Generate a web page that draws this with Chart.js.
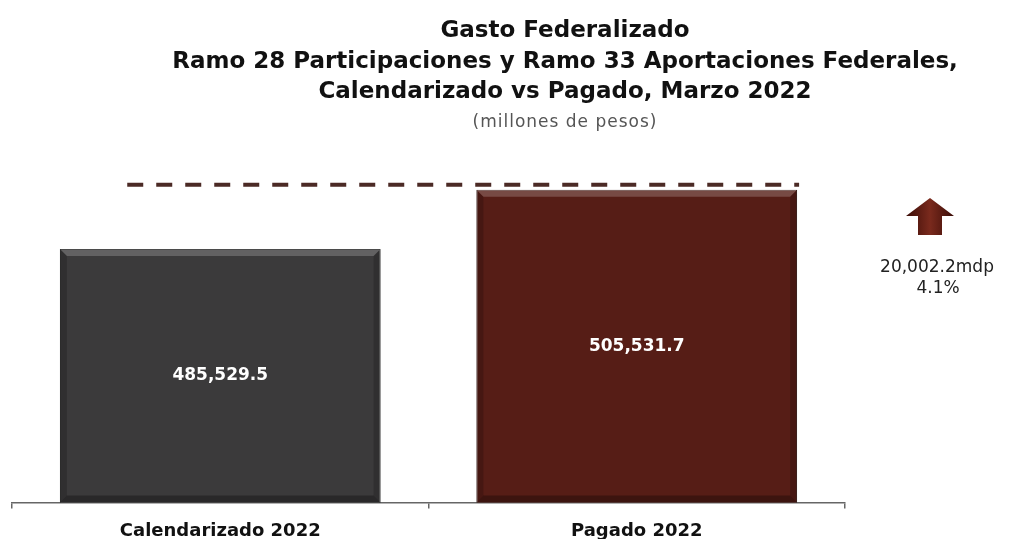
<!DOCTYPE html>
<html>
<head>
<meta charset="utf-8">
<title>Gasto Federalizado</title>
<style>
  html, body { margin: 0; padding: 0; background: #fff; }
  #wrap { position: relative; width: 1011px; height: 539px; }
</style>
</head>
<body>
<div id="wrap"><canvas id="myChart"></canvas></div>
<script src="https://cdn.jsdelivr.net/npm/chart.js@4/dist/chart.umd.min.js"></script>
<script>
// data
const categories = ['Calendarizado 2022', 'Pagado 2022'];
const values = [485529.5, 505531.7];
const titleLines = [
  'Gasto Federalizado',
  'Ramo 28 Participaciones y Ramo 33 Aportaciones Federales,',
  'Calendarizado vs Pagado, Marzo 2022'
];
const subtitleText = '(millones de pesos)';
const axisMin = 400000;
const axisMax = 520000;

const barFill = ['#3b3a3b', '#561d16'];
const barEdge = ['#1e1e1e', '#33100b'];

function fmt(v) {
  return v.toLocaleString('en-US', { minimumFractionDigits: 1, maximumFractionDigits: 1 });
}
const diff = values[1] - values[0];
const diffText = fmt(diff) + 'mdp';
const pctText = (diff / values[0] * 100).toFixed(1) + '%';

const decor = {
  id: 'decor',
  afterDatasetsDraw(chart) {
    const ctx = chart.ctx;
    const area = chart.chartArea;
    const bars = chart.getDatasetMeta(0).data;
    bars.forEach((b, i) => {
      const l = b.x - b.width / 2, r = b.x + b.width / 2, t = b.y;
      const btm = Math.min(b.base, area.bottom);
      const d = 7;
      ctx.save();
      // bevel: light top, darker sides and bottom
      ctx.fillStyle = 'rgba(255,255,255,0.2)';
      ctx.beginPath();
      ctx.moveTo(l, t); ctx.lineTo(r, t); ctx.lineTo(r - d, t + d); ctx.lineTo(l + d, t + d);
      ctx.closePath(); ctx.fill();
      ctx.fillStyle = 'rgba(0,0,0,0.18)';
      ctx.beginPath();
      ctx.moveTo(l, t); ctx.lineTo(l + d, t + d); ctx.lineTo(l + d, btm - d); ctx.lineTo(l, btm);
      ctx.closePath(); ctx.fill();
      ctx.beginPath();
      ctx.moveTo(r, t); ctx.lineTo(r - d, t + d); ctx.lineTo(r - d, btm - d); ctx.lineTo(r, btm);
      ctx.closePath(); ctx.fill();
      ctx.fillStyle = 'rgba(0,0,0,0.3)';
      ctx.beginPath();
      ctx.moveTo(l, btm); ctx.lineTo(l + d, btm - d); ctx.lineTo(r - d, btm - d); ctx.lineTo(r, btm);
      ctx.closePath(); ctx.fill();

      // value label
      ctx.fillStyle = '#ffffff';
      ctx.font = 'bold 17px "DejaVu Sans"';
      ctx.textAlign = 'center';
      ctx.textBaseline = 'middle';
      ctx.fillText(fmt(values[i]), b.x, (t + btm) / 2);
      ctx.restore();
    });
  },
  afterDraw(chart) {
    const ctx = chart.ctx;
    const area = chart.chartArea;
    const bars = chart.getDatasetMeta(0).data;
    const yScale = chart.scales.y;
    ctx.save();

    // titles
    const cx = 565;
    ctx.textAlign = 'center';
    ctx.textBaseline = 'alphabetic';
    ctx.fillStyle = '#111';
    ctx.font = 'bold 23px "DejaVu Sans"';
    titleLines.forEach((line, i) => ctx.fillText(line, cx, 37 + i * 30.5));
    ctx.fillStyle = '#555';
    ctx.font = '17px "DejaVu Sans"';
    ctx.letterSpacing = '1px';
    ctx.fillText(subtitleText, cx, 127);
    ctx.letterSpacing = '0px';

    // dashed reference line at the paid level
    const b0 = bars[0], b1 = bars[1];
    const ly = yScale.getPixelForValue(values[1]) - 5;
    ctx.strokeStyle = '#4b2a25';
    ctx.lineWidth = 4;
    ctx.setLineDash([16, 13]);
    ctx.beginPath();
    ctx.moveTo(b0.x - b0.width * 0.29, ly);
    ctx.lineTo(b1.x + b1.width / 2 + 2, ly);
    ctx.stroke();
    ctx.setLineDash([]);

    // arrow
    const ax = area.right + 85;
    const g = ctx.createLinearGradient(ax - 24, 0, ax + 24, 0);
    g.addColorStop(0, '#3a0c07');
    g.addColorStop(0.5, '#7a2a1d');
    g.addColorStop(1, '#3a0c07');
    ctx.fillStyle = g;
    ctx.beginPath();
    ctx.moveTo(ax, 198);
    ctx.lineTo(ax + 24, 216);
    ctx.lineTo(ax + 12, 216);
    ctx.lineTo(ax + 12, 235);
    ctx.lineTo(ax - 12, 235);
    ctx.lineTo(ax - 12, 216);
    ctx.lineTo(ax - 24, 216);
    ctx.closePath();
    ctx.fill();

    ctx.fillStyle = '#222';
    ctx.font = '17px "DejaVu Sans"';
    ctx.textBaseline = 'middle';
    ctx.fillText(diffText, ax + 7, 268);
    ctx.fillText(pctText, ax + 8, 289);
    ctx.restore();
  }
};

const ctx = document.getElementById('myChart').getContext('2d');
const chart = new Chart(ctx, {
  type: 'bar',
  data: {
    labels: categories,
    datasets: [{
      data: values,
      backgroundColor: barFill,
      borderColor: barEdge,
      borderWidth: 1,
      categoryPercentage: 0.77,
      barPercentage: 1.0
    }]
  },
  options: {
    responsive: true,
    maintainAspectRatio: false,
    animation: false,
    layout: { padding: { top: 147, left: 12, right: 166, bottom: -15 } },
    plugins: {
      legend: { display: false },
      tooltip: { enabled: false }
    },
    scales: {
      y: { display: false, min: axisMin, max: axisMax },
      x: {
        border: { display: true, color: '#666', width: 1.5 },
        grid: { display: true, drawOnChartArea: false, drawTicks: true, tickLength: 6, color: '#666', lineWidth: 1.5, offset: true },
        ticks: { color: '#111', padding: 12, font: { family: 'DejaVu Sans', size: 18, weight: 'bold' } }
      }
    }
  },
  plugins: [decor]
});
</script>
</body>
</html>
